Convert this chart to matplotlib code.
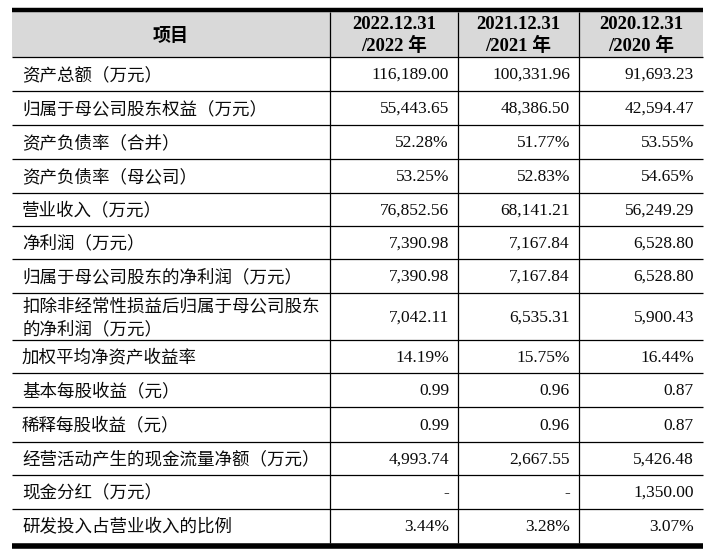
import matplotlib.pyplot as plt
from matplotlib.patches import Rectangle

plt.rcParams['font.family'] = ['Liberation Serif', 'Noto Sans CJK SC', 'DejaVu Sans']

# table content
header_item = "项目"
header_dates = ["2022.12.31\n/2022 年", "2021.12.31\n/2021 年", "2020.12.31\n/2020 年"]
items = [
    "资产总额（万元）",
    "归属于母公司股东权益（万元）",
    "资产负债率（合并）",
    "资产负债率（母公司）",
    "营业收入（万元）",
    "净利润（万元）",
    "归属于母公司股东的净利润（万元）",
    "扣除非经常性损益后归属于母公司股东\n的净利润（万元）",
    "加权平均净资产收益率",
    "基本每股收益（元）",
    "稀释每股收益（元）",
    "经营活动产生的现金流量净额（万元）",
    "现金分红（万元）",
    "研发投入占营业收入的比例",
]
values_2022 = ["116,189.00", "55,443.65", "52.28%", "53.25%", "76,852.56", "7,390.98", "7,390.98",
               "7,042.11", "14.19%", "0.99", "0.99", "4,993.74", "-", "3.44%"]
values_2021 = ["100,331.96", "48,386.50", "51.77%", "52.83%", "68,141.21", "7,167.84", "7,167.84",
               "6,535.31", "15.75%", "0.96", "0.96", "2,667.55", "-", "3.28%"]
values_2020 = ["91,693.23", "42,594.47", "53.55%", "54.65%", "56,249.29", "6,528.80", "6,528.80",
               "5,900.43", "16.44%", "0.87", "0.87", "5,426.48", "1,350.00", "3.07%"]

# layout (pixels)
left, right = 12, 703
col_edges = [left, 330, 458, 579, right]
head_top, head_bottom = 12, 57
row_h = [34, 34, 34, 34, 33, 33, 34, 47, 33, 34, 35, 33, 34, 34]

fig = plt.figure(figsize=(7.14, 5.51), dpi=100)
ax = fig.add_axes([0, 0, 1, 1])
ax.set_xlim(0, 714)
ax.set_ylim(551, 0)
ax.axis("off")

cjk = ['Noto Sans CJK SC', 'DejaVu Sans']
ax.add_patch(Rectangle((left, head_top), right - left, head_bottom - head_top,
                       facecolor="#d9d9d9", edgecolor="none"))
ax.text((col_edges[0] + col_edges[1]) / 2, (head_top + head_bottom) / 2 + 1, header_item,
        ha="center", va="center", fontsize=13, fontweight="bold", family=cjk)
for i, h in enumerate(header_dates):
    ax.text((col_edges[i + 1] + col_edges[i + 2]) / 2, (head_top + head_bottom) / 2 + 1, h,
            ha="center", va="center", fontsize=13.5, fontweight="bold", linespacing=1.25)

# rows
y = head_bottom
ys = [y]
for k, h in enumerate(row_h):
    yc = y + h / 2 + 1
    ax.text(22, yc, items[k], ha="left", va="center", fontsize=12.6, linespacing=1.35,
            family=cjk, color="#0a0a0a")
    for j, vals in enumerate([values_2022, values_2021, values_2020]):
        ax.text(col_edges[j + 2] - 9, yc, vals[k], ha="right", va="center",
                fontsize=12.5, color="#0a0a0a")
    y += h
    ys.append(y)

# lines
ax.hlines(ys[:-1], left, right, color="black", lw=0.9)
ax.hlines(head_top - 2, left, right, color="black", lw=3.2)
ax.hlines(ys[-1] + 2.5, left, right, color="black", lw=4)
ax.vlines(col_edges[1:-1], head_top, ys[-1], color="black", lw=0.9)

fig.savefig("out.png", dpi=100)
